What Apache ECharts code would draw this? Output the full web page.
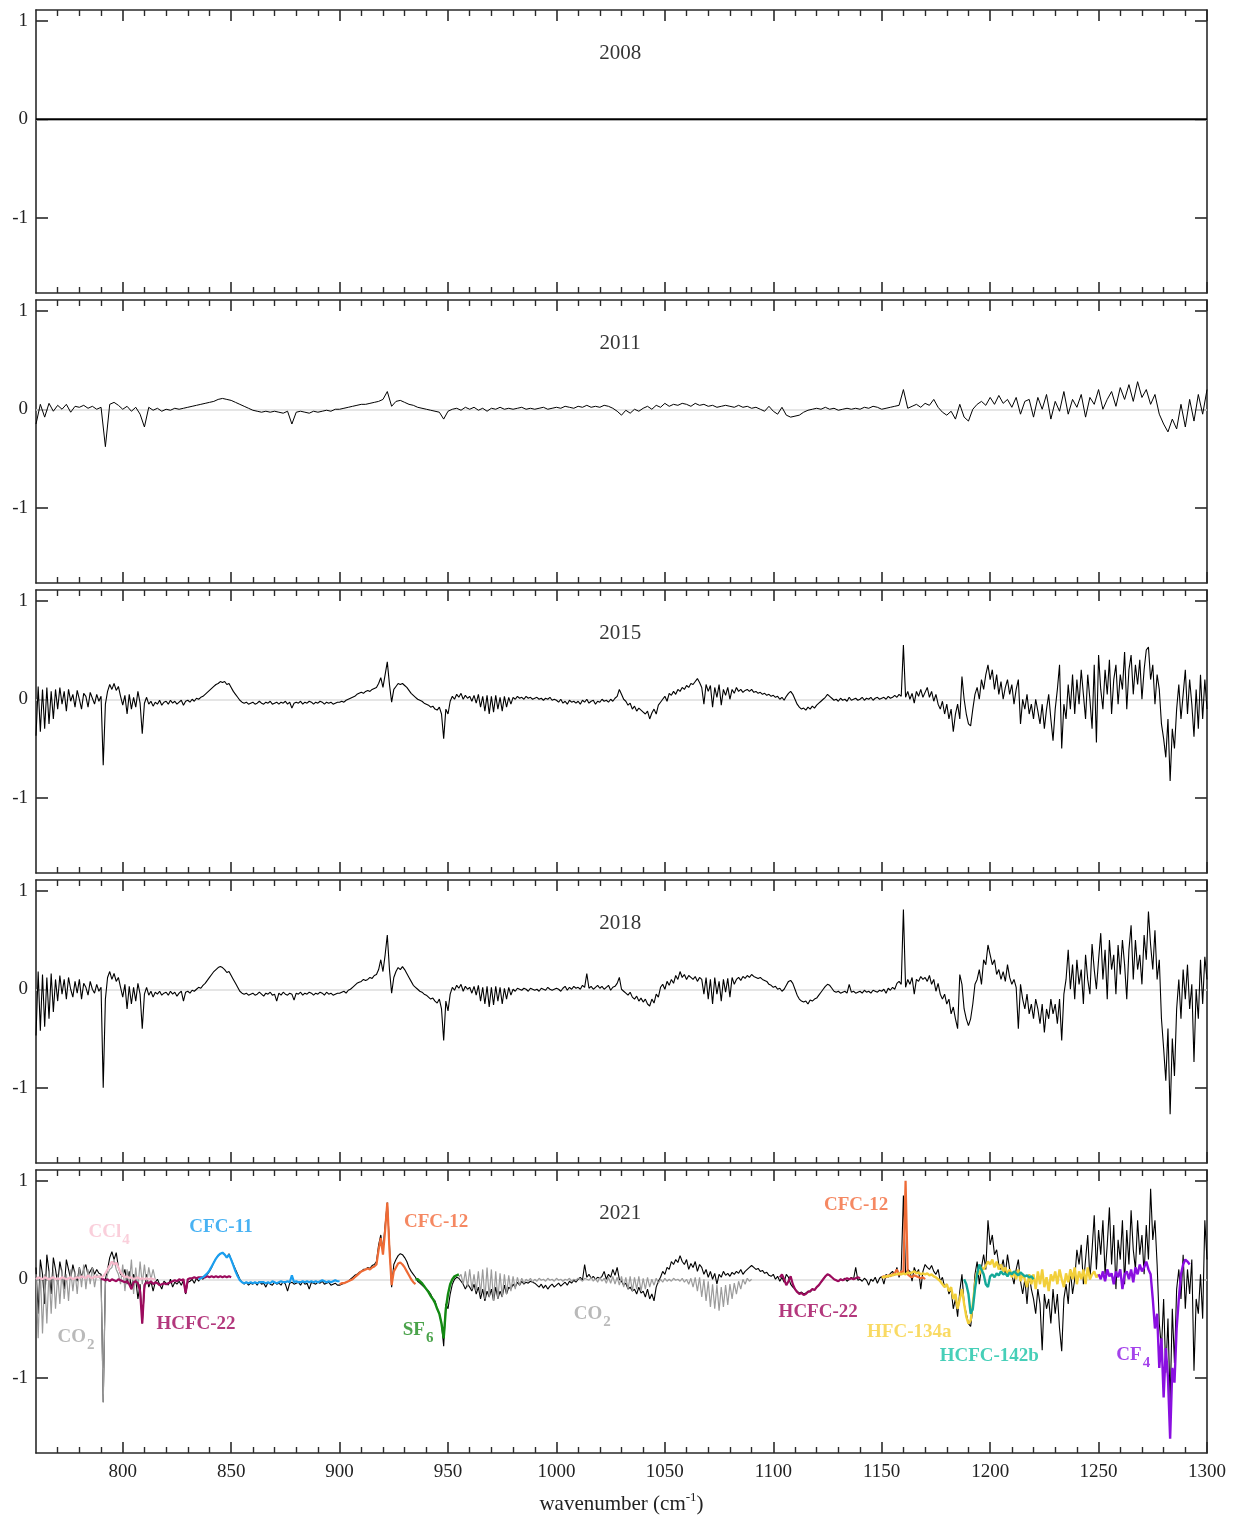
<!DOCTYPE html>
<html><head><meta charset="utf-8">
<script src="https://cdn.jsdelivr.net/npm/echarts@6/dist/echarts.min.js"></script>
<style>html,body{margin:0;padding:0;background:#fff}#c{width:1241px;height:1525px}</style>
</head><body><div id="c"></div>
<script>
// ---------- axis / tick data ----------
const X_MIN = 760, X_MAX = 1300, Y_MIN = -1.765, Y_MAX = 1.11;
const years = ['2008', '2011', '2015', '2018', '2021'];
const majorTicks = [800, 850, 900, 950, 1000, 1050, 1100, 1150, 1200, 1250, 1300];
const minorTicks = [770,780,790,810,820,830,840,860,870,880,890,910,920,930,940,960,970,980,990,1010,1020,1030,1040,1060,1070,1080,1090,1110,1120,1130,1140,1160,1170,1180,1190,1210,1220,1230,1240,1260,1270,1280,1290];
const yTicks = [-1, 0, 1];

// ---------- spectra ----------
const x2008 = [760, 1300];
const d2008 = [0, 0];

const d2011Start = 760, d2011Step = 2;
const d2011 = [
-0.15,0.05,-0.08,0.06,-0.02,0.04,0.0,0.05,-0.03,0.03,
0.02,0.04,0.01,0.03,0.0,0.02,-0.38,0.05,0.07,0.04,
0.0,0.03,-0.02,0.02,-0.05,-0.18,0.02,-0.01,0.01,-0.02,
0.0,-0.01,0.01,0.0,0.01,0.02,0.03,0.04,0.05,0.06,
0.07,0.08,0.1,0.11,0.1,0.09,0.07,0.05,0.03,0.01,
-0.01,-0.02,-0.03,-0.02,-0.03,-0.02,-0.03,-0.04,-0.02,-0.15,
-0.03,-0.02,-0.03,-0.04,-0.02,-0.03,-0.02,-0.01,-0.02,0.0,
0.0,0.01,0.02,0.03,0.04,0.05,0.05,0.06,0.07,0.08,
0.1,0.18,0.03,0.08,0.09,0.07,0.05,0.04,0.02,0.01,
0.0,-0.01,-0.02,-0.03,-0.1,-0.02,0.0,0.01,-0.01,0.02,
0.0,0.02,-0.01,0.01,-0.02,0.01,0.0,0.02,0.0,0.01,
0.0,0.01,0.02,0.0,0.01,0.0,0.01,0.02,0.0,0.01,
0.02,0.01,0.03,0.02,0.01,0.03,0.02,0.04,0.02,0.03,
0.02,0.04,0.03,0.01,-0.02,-0.06,-0.01,-0.04,0.0,-0.02,
0.01,0.03,0.0,0.04,0.02,0.06,0.03,0.05,0.04,0.06,
0.05,0.03,0.06,0.04,0.05,0.03,0.04,0.02,0.03,0.04,
0.03,0.02,0.04,0.02,0.03,0.01,0.02,0.0,-0.02,0.03,
-0.02,-0.05,0.02,-0.06,-0.08,-0.07,-0.06,-0.03,-0.01,0.0,
0.01,0.0,0.02,0.0,0.01,-0.01,0.0,0.01,0.0,0.01,
0.0,0.02,0.01,0.03,0.02,0.0,0.01,0.02,0.03,0.04,
0.2,0.01,0.03,0.05,0.02,0.06,0.04,0.1,0.02,-0.03,
-0.06,-0.02,-0.1,0.05,-0.08,-0.12,0.0,0.05,0.08,0.04,
0.12,0.05,0.14,0.06,0.1,0.02,0.12,-0.05,0.08,0.1,
-0.08,0.12,0.0,0.15,-0.1,0.08,-0.02,0.18,-0.05,0.1,
0.02,0.15,-0.08,0.12,0.05,0.2,0.0,0.1,0.18,0.03,
0.22,0.1,0.25,0.08,0.28,0.12,0.2,0.05,0.15,-0.05,
-0.15,-0.23,-0.1,-0.2,0.05,-0.18,0.1,-0.12,0.15,-0.05,
0.2];

const d2015Start = 760, d2015Step = 1;
const d2015 = [
-0.37,0.13,-0.33,0.1,-0.3,0.12,-0.25,0.08,-0.2,0.1,
-0.1,0.12,-0.05,0.08,-0.12,0.1,-0.02,0.05,-0.08,0.09,
0.0,-0.1,0.06,0.03,-0.08,0.07,0.01,-0.05,0.05,-0.02,
0.03,-0.67,-0.05,0.08,0.15,0.1,0.16,0.09,0.13,0.03,
-0.06,0.04,-0.15,0.05,-0.1,0.02,-0.08,0.08,-0.04,-0.35,
-0.04,0.02,-0.05,-0.02,-0.07,-0.03,-0.05,-0.01,-0.06,-0.03,
-0.02,-0.05,-0.01,-0.04,-0.02,-0.05,-0.03,-0.01,-0.06,-0.02,
-0.01,-0.03,0.0,-0.02,0.01,0.0,0.02,0.03,0.05,0.07,
0.09,0.11,0.13,0.15,0.16,0.18,0.17,0.18,0.15,0.16,
0.12,0.08,0.05,0.02,-0.01,-0.03,-0.04,-0.03,-0.05,-0.04,
-0.03,-0.05,-0.04,-0.02,-0.04,-0.05,-0.03,-0.04,-0.02,-0.05,
-0.04,-0.03,-0.05,-0.03,-0.04,-0.02,-0.05,-0.03,-0.09,-0.04,
-0.03,-0.04,-0.02,-0.05,-0.03,-0.04,-0.02,-0.03,-0.05,-0.03,
-0.04,-0.02,-0.03,-0.05,-0.03,-0.04,-0.03,-0.05,-0.04,-0.03,
-0.03,-0.02,-0.03,-0.01,0.0,0.01,0.02,0.03,0.05,0.06,
0.07,0.06,0.08,0.09,0.08,0.1,0.11,0.12,0.16,0.22,
0.12,0.25,0.38,0.15,-0.03,0.1,0.13,0.16,0.15,0.16,
0.14,0.12,0.09,0.06,0.04,0.02,0.0,-0.01,-0.02,-0.04,
-0.05,-0.06,-0.08,-0.07,-0.1,-0.11,-0.08,-0.15,-0.4,-0.1,
-0.15,-0.02,0.03,0.0,0.05,0.02,0.06,0.0,0.04,0.01,
0.03,-0.02,0.04,-0.04,0.05,-0.08,0.03,-0.12,0.04,-0.15,
0.03,-0.13,0.04,-0.1,0.02,-0.12,0.03,-0.08,0.02,-0.05,
0.02,0.0,0.03,0.01,0.02,0.0,0.03,0.01,0.02,0.0,
0.01,0.02,0.0,0.01,-0.01,0.01,0.0,0.02,-0.01,0.0,
-0.01,-0.03,0.0,-0.04,-0.02,-0.05,-0.01,-0.03,-0.02,-0.04,
-0.02,-0.05,-0.01,-0.03,0.0,-0.04,-0.02,-0.01,-0.05,-0.02,
-0.03,0.0,-0.02,-0.01,-0.03,0.0,-0.02,0.01,0.03,0.1,
0.05,0.0,-0.02,-0.06,-0.04,-0.1,-0.07,-0.12,-0.09,-0.11,
-0.13,-0.15,-0.12,-0.2,-0.14,-0.1,-0.15,-0.06,-0.03,0.0,
0.03,-0.02,0.06,0.04,0.08,0.05,0.1,0.08,0.12,0.1,
0.14,0.12,0.16,0.15,0.18,0.21,0.17,0.12,-0.05,0.15,
0.08,0.14,-0.08,0.12,0.02,0.15,-0.06,0.1,0.04,0.12,
0.0,0.1,0.06,0.12,0.08,0.1,0.07,0.09,0.1,0.08,
0.1,0.07,0.08,0.06,0.07,0.05,0.06,0.04,0.05,0.03,
0.04,0.02,0.03,0.0,0.02,-0.01,0.03,0.06,0.08,0.05,
0.0,-0.05,-0.08,-0.1,-0.09,-0.11,-0.08,-0.1,-0.07,-0.09,
-0.06,-0.04,-0.02,0.0,0.02,0.05,0.03,0.01,-0.01,0.0,
-0.02,0.01,-0.01,0.0,-0.02,0.02,-0.01,0.0,0.01,-0.01,
0.0,0.02,-0.01,0.01,0.0,0.02,-0.01,0.01,0.02,0.0,
0.01,0.02,0.0,0.03,0.01,0.02,0.04,0.02,0.05,0.03,
0.55,0.02,0.08,0.0,0.06,-0.04,0.08,0.03,0.1,0.02,
0.07,0.12,0.02,0.08,-0.02,0.05,-0.05,-0.1,-0.02,-0.15,
-0.05,-0.2,-0.1,-0.33,-0.15,-0.05,-0.2,0.23,0.0,-0.15,
-0.25,-0.27,-0.1,0.05,0.12,0.0,0.2,0.1,0.25,0.35,
0.2,0.3,0.1,0.25,0.05,0.18,0.0,0.12,0.2,0.05,
0.15,-0.05,0.1,0.2,-0.25,0.0,-0.1,0.05,-0.15,-0.05,
-0.2,0.0,-0.12,-0.25,-0.05,-0.3,-0.1,0.05,-0.2,-0.42,
-0.1,0.1,0.35,-0.5,-0.05,-0.2,0.15,-0.1,0.25,-0.15,
0.2,-0.05,0.3,0.05,-0.2,0.25,0.0,-0.3,0.35,-0.44,
0.45,0.1,-0.1,0.3,0.05,0.4,-0.15,0.2,0.35,-0.05,
0.25,0.1,0.48,-0.1,0.3,0.45,0.05,0.35,0.15,0.4,
0.0,0.3,0.5,0.53,0.2,0.35,-0.05,0.25,0.1,-0.25,
-0.4,-0.59,-0.2,-0.83,-0.3,-0.5,-0.1,0.15,-0.2,0.05,
0.3,-0.15,0.2,-0.05,-0.38,0.1,-0.3,0.25,-0.2,0.2,
-0.1];

const d2018Start = 760, d2018Step = 1;
const d2018 = [
-0.47,0.18,-0.42,0.15,-0.38,0.12,-0.3,0.16,-0.23,0.1,
-0.12,0.14,-0.05,0.1,-0.1,0.12,0.0,-0.08,0.08,-0.04,
0.1,-0.1,0.06,0.02,-0.06,0.08,0.0,-0.04,0.05,-0.02,
0.02,-1.0,-0.1,0.12,0.18,0.1,0.16,0.08,0.12,0.02,
-0.08,0.05,-0.2,0.03,-0.15,0.02,-0.12,0.06,-0.05,-0.4,
-0.05,0.02,-0.06,-0.02,-0.08,-0.03,-0.05,-0.02,-0.06,-0.04,
-0.03,-0.06,-0.02,-0.05,-0.03,-0.07,-0.04,-0.02,-0.12,-0.03,
-0.02,-0.04,-0.01,-0.02,0.0,0.02,0.01,0.04,0.06,0.09,
0.12,0.15,0.18,0.2,0.22,0.23,0.22,0.2,0.17,0.18,
0.14,0.1,0.06,0.02,-0.02,-0.04,-0.05,-0.04,-0.06,-0.05,
-0.04,-0.06,-0.05,-0.03,-0.05,-0.07,-0.04,-0.05,-0.03,-0.06,
-0.05,-0.12,-0.04,-0.06,-0.03,-0.05,-0.06,-0.04,-0.05,-0.11,
-0.04,-0.05,-0.03,-0.06,-0.04,-0.05,-0.03,-0.04,-0.06,-0.04,
-0.05,-0.03,-0.04,-0.06,-0.03,-0.05,-0.04,-0.06,-0.05,-0.04,
-0.04,-0.03,-0.02,-0.04,-0.01,0.0,0.02,0.04,0.06,0.07,
0.08,0.1,0.09,0.1,0.12,0.11,0.14,0.15,0.2,0.3,
0.18,0.35,0.55,0.2,-0.04,0.12,0.18,0.22,0.2,0.23,
0.2,0.16,0.12,0.08,0.04,0.02,0.0,-0.02,-0.03,-0.05,
-0.06,-0.08,-0.1,-0.09,-0.12,-0.14,-0.1,-0.2,-0.52,-0.12,
-0.22,-0.05,0.02,-0.01,0.04,0.01,0.05,-0.02,0.03,0.0,
0.02,-0.04,0.03,-0.06,0.04,-0.12,0.02,-0.15,0.03,-0.18,
0.02,-0.16,0.03,-0.12,0.02,-0.15,0.01,-0.1,0.02,-0.06,
0.0,-0.02,0.01,0.0,-0.01,0.01,0.0,-0.02,0.01,0.0,
-0.01,0.0,-0.02,0.01,0.0,-0.01,0.02,0.0,-0.01,0.0,
0.01,0.0,-0.02,0.01,0.03,-0.01,0.02,0.0,0.03,0.01,
0.02,0.0,0.04,0.02,0.16,0.01,0.03,0.0,0.02,0.04,
0.01,0.03,0.0,0.02,0.04,-0.01,0.02,0.03,0.06,0.12,
0.0,-0.02,-0.04,-0.06,-0.03,-0.08,-0.1,-0.07,-0.12,-0.09,
-0.13,-0.1,-0.15,-0.17,-0.1,-0.14,-0.05,-0.08,0.02,0.05,
0.0,0.08,0.04,0.1,0.06,0.14,0.1,0.18,0.12,0.15,
0.1,0.14,0.12,0.1,0.13,0.08,0.12,0.1,-0.05,0.12,
-0.1,0.1,-0.15,0.12,-0.05,0.08,-0.12,0.1,-0.03,0.11,
-0.08,0.12,0.05,0.1,0.12,0.09,0.13,0.11,0.14,0.12,
0.15,0.13,0.12,0.11,0.12,0.1,0.09,0.08,0.05,0.04,
0.02,0.03,0.0,0.01,-0.02,0.0,0.04,0.08,0.09,0.06,
0.0,-0.06,-0.1,-0.12,-0.13,-0.12,-0.15,-0.11,-0.12,-0.1,
-0.09,-0.06,-0.03,0.0,0.03,0.05,0.04,0.01,-0.02,-0.03,
-0.02,-0.04,-0.03,-0.02,-0.04,0.05,-0.03,-0.02,-0.04,-0.03,
-0.02,-0.04,-0.01,-0.03,-0.02,-0.04,-0.01,-0.02,-0.03,-0.01,
-0.02,0.0,-0.04,0.01,-0.01,0.02,0.0,0.06,0.08,0.05,
0.81,0.02,0.1,0.05,0.12,-0.05,0.1,0.08,0.13,0.1,
0.12,0.08,0.14,0.05,0.1,-0.02,0.06,-0.05,-0.1,-0.05,
-0.15,-0.1,-0.25,-0.18,-0.3,-0.4,0.15,0.05,-0.2,-0.3,
-0.37,-0.3,-0.15,0.05,0.1,0.2,0.05,0.3,0.25,0.45,
0.35,0.25,0.3,0.15,0.2,0.1,0.18,0.08,0.25,0.12,
0.05,0.1,0.02,-0.4,0.05,-0.1,-0.2,-0.05,-0.25,-0.15,
-0.3,-0.1,-0.2,-0.35,-0.15,-0.44,-0.2,-0.3,-0.1,-0.25,
-0.15,-0.35,-0.1,-0.52,-0.05,0.1,0.4,0.0,0.25,-0.1,
0.3,0.05,0.2,-0.15,0.35,0.1,-0.05,0.46,0.2,0.0,
0.3,0.57,0.1,0.4,-0.1,0.5,0.2,0.35,-0.05,0.45,
0.15,0.5,0.25,-0.1,0.4,0.65,0.1,0.5,0.2,0.35,
0.05,0.55,0.3,0.79,0.45,0.2,0.6,0.1,0.3,-0.3,
-0.6,-0.93,-0.4,-1.27,-0.5,-0.88,-0.2,0.1,-0.3,0.2,
-0.1,0.25,-0.2,0.05,-0.74,0.0,-0.3,0.3,-0.15,0.33,
0.1];

const d2021Start = 760, d2021Step = 1;
const d2021 = [
0.12,-0.35,0.2,0.05,-0.25,0.25,0.08,-0.15,0.22,0.1,
-0.05,0.18,0.06,-0.1,0.2,0.1,0.0,0.15,0.05,-0.02,
0.12,0.02,0.1,0.15,0.04,0.08,0.12,0.05,0.1,0.06,
0.05,-1.25,0.0,0.1,0.22,0.28,0.2,0.27,0.12,0.05,
0.03,0.1,-0.05,0.08,-0.1,0.05,0.0,-0.2,-0.05,-0.45,
-0.1,0.05,-0.08,-0.02,-0.12,-0.03,0.0,-0.05,-0.1,-0.02,
-0.04,-0.06,0.0,-0.08,-0.03,-0.05,-0.02,-0.06,-0.01,-0.15,
-0.03,-0.02,0.0,-0.04,0.01,-0.02,0.02,0.0,0.03,0.05,
0.08,0.12,0.17,0.21,0.24,0.26,0.27,0.25,0.22,0.26,
0.2,0.15,0.1,0.05,0.0,-0.03,-0.05,-0.03,-0.06,-0.04,
-0.05,-0.03,-0.06,-0.02,-0.05,-0.04,-0.08,-0.03,-0.05,-0.06,
-0.03,-0.05,-0.04,-0.06,-0.02,-0.05,-0.12,-0.04,-0.03,-0.05,
-0.04,-0.03,-0.06,-0.02,-0.05,-0.04,-0.1,-0.03,-0.04,-0.05,
-0.03,-0.04,-0.02,-0.05,-0.04,-0.03,-0.06,-0.05,-0.04,-0.06,
-0.06,-0.05,-0.04,-0.03,-0.02,0.0,0.02,0.04,0.05,0.07,
0.08,0.1,0.1,0.12,0.11,0.14,0.15,0.18,0.35,0.45,
0.3,0.55,0.78,0.35,-0.08,0.15,0.2,0.24,0.26,0.25,
0.22,0.18,0.12,0.08,0.05,0.02,-0.02,-0.04,-0.06,-0.08,
-0.1,-0.12,-0.15,-0.2,-0.22,-0.3,-0.35,-0.45,-0.68,-0.25,
-0.3,-0.15,-0.05,0.0,0.02,0.01,-0.02,-0.05,-0.1,-0.05,
-0.08,-0.12,-0.05,-0.15,-0.08,-0.2,-0.1,-0.22,-0.12,-0.18,
-0.1,-0.22,-0.08,-0.2,-0.12,-0.18,-0.06,-0.15,-0.08,-0.1,
-0.05,-0.08,-0.03,-0.06,-0.02,-0.05,-0.03,-0.04,-0.02,-0.03,
-0.04,-0.06,-0.08,-0.05,-0.09,-0.06,-0.1,-0.07,-0.05,-0.08,
-0.06,-0.04,-0.07,-0.05,-0.03,-0.06,-0.02,-0.04,-0.01,-0.03,
0.0,0.02,-0.01,0.15,0.02,0.05,0.01,0.03,0.0,0.02,
0.01,0.03,0.08,0.0,0.05,0.02,0.1,0.04,0.12,0.0,
-0.02,-0.06,-0.04,-0.1,-0.08,-0.12,-0.1,-0.15,-0.08,-0.14,
-0.12,-0.18,-0.1,-0.2,-0.15,-0.22,-0.08,-0.02,0.02,0.08,
0.05,0.12,0.1,0.18,0.15,0.2,0.17,0.24,0.18,0.15,
0.2,0.1,0.16,0.12,0.18,0.08,0.15,0.12,0.05,0.1,
0.02,0.08,0.0,0.06,-0.05,0.05,0.02,0.08,0.04,0.06,
0.03,0.07,0.05,0.08,0.06,0.1,0.05,0.08,0.1,0.12,
0.14,0.12,0.1,0.11,0.08,0.09,0.06,0.07,0.04,0.03,
0.05,0.0,0.03,-0.02,0.02,-0.03,0.05,0.02,-0.05,-0.08,
-0.1,-0.12,-0.14,-0.13,-0.15,-0.14,-0.12,-0.13,-0.1,-0.11,
-0.08,-0.06,-0.03,0.0,0.03,0.05,0.04,0.02,0.0,-0.01,
-0.02,0.0,-0.01,0.01,-0.02,0.0,0.02,0.0,0.12,-0.01,
0.0,-0.02,0.01,-0.01,-0.06,0.0,-0.02,0.02,-0.04,0.01,
0.03,-0.05,0.05,0.02,0.06,0.08,0.04,0.12,0.02,0.1,
0.85,0.05,0.1,0.08,-0.02,0.12,0.06,0.1,-0.1,0.08,
0.15,0.12,0.1,0.14,0.08,0.05,0.1,-0.02,0.02,-0.08,
-0.05,-0.15,-0.1,-0.3,-0.2,-0.38,-0.12,0.05,-0.25,-0.35,
-0.45,-0.48,-0.3,0.05,0.18,-0.05,0.12,0.25,0.1,0.6,
0.35,0.45,0.25,0.3,0.15,0.1,0.2,0.05,0.25,0.1,
0.05,-0.05,0.1,0.2,-0.02,-0.15,0.0,-0.25,0.05,-0.1,
-0.2,-0.35,-0.1,-0.25,-0.72,-0.15,-0.3,-0.2,-0.45,-0.1,
-0.35,-0.15,-0.5,-0.73,-0.2,-0.05,-0.25,0.1,-0.15,0.0,
0.3,0.15,0.35,-0.05,0.2,0.45,0.0,0.3,0.65,0.1,
0.5,0.25,0.6,0.05,0.35,0.73,0.15,0.55,-0.1,0.4,
0.2,0.6,-0.05,0.5,0.15,0.7,0.3,0.1,0.6,0.25,
0.45,0.05,0.55,0.2,0.92,0.4,0.6,0.15,-0.45,-0.7,
-0.2,-0.95,-0.4,-1.25,-0.3,-0.85,-0.1,0.1,-0.2,0.25,
-0.3,0.1,-0.15,0.2,-0.93,-0.2,-0.35,0.05,-0.4,0.6,
0.2];

// ---------- 2021 gas contributions ----------
const co2aStart = 760;
const co2a = [
0.05,-0.6,0.1,-0.55,0.05,-0.45,0.08,-0.35,0.1,-0.3,
0.05,-0.25,0.1,-0.2,0.05,-0.22,0.1,-0.12,0.08,-0.15,
0.12,-0.08,0.15,-0.1,0.1,-0.05,0.12,-0.08,0.05,0.02,
0.0,-1.25,-0.05,0.05,0.1,0.12,0.2,0.1,0.05,-0.05,
0.15,-0.12,0.1,-0.05,0.2,-0.15,0.12,-0.1,0.18,-0.05,
0.15,-0.05,0.12,0.0,0.1,0.0];
const co2bStart = 955;
const co2b = [
0.02,0.05,-0.05,0.08,-0.08,0.1,-0.1,0.05,-0.12,0.08,
-0.15,0.1,-0.2,0.12,-0.18,0.1,-0.22,0.08,-0.2,0.06,
-0.18,0.05,-0.15,0.04,-0.12,0.03,-0.1,0.02,-0.06,0.01,
-0.04,0.0,-0.02,0.01,-0.03,0.0,-0.02,0.01,-0.01,0.0,
-0.02,0.01,-0.01,0.0,-0.02,0.01,-0.01,0.0,-0.02,0.0,
-0.01,0.01,-0.02,0.0,-0.01,0.01,0.0,-0.02,0.01,0.0,
-0.01,0.02,-0.02,0.01,-0.03,0.02,-0.02,0.01,-0.04,0.02,
-0.04,0.03,-0.05,0.02,-0.06,0.03,-0.08,0.02,-0.1,0.03,
-0.12,0.02,-0.1,0.03,-0.12,0.01,-0.1,0.02,-0.08,0.0,
-0.06,0.01,-0.04,0.0,-0.03,0.01,-0.02,0.0,-0.02,0.01,
-0.01,0.0,-0.02,0.01,-0.03,0.0,-0.05,0.01,-0.08,0.02,
-0.12,0.02,-0.18,0.0,-0.22,-0.02,-0.28,-0.05,-0.3,-0.06,
-0.32,-0.08,-0.28,-0.06,-0.26,-0.05,-0.2,-0.04,-0.15,-0.02,
-0.1,0.0,-0.05,0.01,-0.02,0.0];
const ccl4Start = 760;
const ccl4 = [
0.0,0.02,0.01,0.0,0.02,0.01,0.0,0.01,0.02,0.0,
0.01,0.0,0.02,0.01,0.0,0.01,0.02,0.0,0.01,0.02,
0.01,0.03,0.02,0.01,0.04,0.02,0.01,0.03,0.02,0.03,
0.02,0.03,0.06,0.1,0.14,0.18,0.15,0.17,0.12,0.07,
0.04,0.02,0.03,0.01,0.02,0.0,0.01,0.02,0.0,0.01,
0.0,0.01,0.0,0.01,0.0,0.0];
const hcfc22aStart = 790;
const hcfc22a = [
0.0,0.0,-0.01,0.0,-0.02,0.0,-0.01,-0.02,0.0,-0.01,
-0.02,-0.03,-0.02,-0.05,-0.1,-0.03,-0.02,-0.04,-0.12,-0.45,
-0.06,-0.03,-0.04,-0.02,-0.05,-0.03,-0.04,-0.06,-0.05,-0.04,
-0.05,-0.04,-0.03,-0.02,-0.01,-0.02,0.0,-0.01,0.0,-0.14,
0.0,0.01,0.01,0.02,0.01,0.02,0.02,0.02,0.02,0.03,
0.02,0.03,0.02,0.03,0.02,0.03,0.02,0.03,0.02,0.03,0.02];
const hcfc22bStart = 1103;
const hcfc22b = [
0.02,0.05,0.0,-0.06,-0.02,0.03,-0.05,-0.1,-0.13,-0.15,
-0.14,-0.16,-0.15,-0.13,-0.12,-0.1,-0.11,-0.08,-0.06,-0.03,
0.0,0.03,0.05,0.04,0.02,0.0,-0.01,-0.02,0.0,-0.01,
0.0,0.01,0.0,0.01,0.0,0.01,0.02,0.01];
const cfc11Start = 835;
const cfc11 = [
0.0,0.01,0.02,0.04,0.06,0.09,0.13,0.17,0.21,0.24,
0.26,0.27,0.25,0.22,0.25,0.2,0.14,0.08,0.03,-0.01,
-0.03,-0.04,-0.03,-0.04,-0.03,-0.04,-0.03,-0.04,-0.03,-0.03,
-0.03,-0.04,-0.03,-0.04,-0.02,-0.03,-0.04,-0.03,-0.02,-0.03,
-0.03,-0.02,-0.03,0.04,-0.03,-0.02,-0.03,-0.03,-0.02,-0.03,
-0.02,-0.03,-0.02,-0.03,-0.02,-0.03,-0.02,-0.01,-0.02,-0.03,
-0.02,-0.03,-0.02,-0.01,-0.02,-0.02];
const cfc12aStart = 900;
const cfc12a = [
-0.05,-0.04,-0.04,-0.03,-0.02,-0.01,0.0,0.02,0.04,0.06,
0.08,0.09,0.1,0.11,0.1,0.12,0.13,0.15,0.3,0.42,
0.25,0.5,0.78,0.3,-0.06,0.08,0.12,0.16,0.17,0.15,
0.12,0.08,0.04,0.0,-0.03,-0.05];
const cfc12bStart = 1150;
const cfc12b = [
0.02,0.03,0.02,0.04,0.03,0.05,0.06,0.1,0.04,0.08,
0.06,1.0,0.05,0.03,0.02,0.04,0.03,0.02,0.01,0.02,0.0];
const sf6Start = 935;
const sf6 = [
0.0,0.0,-0.02,-0.04,-0.07,-0.1,-0.13,-0.17,-0.2,-0.24,
-0.3,-0.35,-0.45,-0.6,-0.3,-0.15,-0.05,0.0,0.03,0.04,0.05];
const hfc134aStart = 1150;
const hfc134a = [
0.02,0.02,0.03,0.03,0.04,0.04,0.05,0.05,0.06,0.05,
0.06,0.05,0.07,0.06,0.07,0.08,0.06,0.07,0.05,0.06,
0.05,0.06,0.04,0.05,0.03,0.02,0.0,-0.02,-0.05,-0.08,
-0.05,-0.12,-0.08,-0.2,-0.15,-0.3,-0.2,-0.1,-0.25,-0.38,
-0.45,-0.42,-0.25,-0.05,0.08,0.05,0.12,0.1,0.14,0.18,
0.15,0.2,0.12,0.18,0.1,0.15,0.08,0.12,0.05,0.1,
0.02,0.08,0.0,0.1,-0.02,0.05,0.0,-0.08,0.05,-0.05,
0.05,-0.1,0.08,-0.05,0.1,-0.08,0.02,-0.12,0.05,-0.02,
0.08,-0.05,0.1,0.0,-0.08,0.06,-0.03,0.1,0.0,0.12,
-0.05,0.08,0.0,0.1,-0.05,0.12,0.0,0.05,0.08,0.02,0.05];
const hcfc142bStart = 1188;
const hcfc142b = [
0.0,-0.05,-0.15,-0.35,-0.3,-0.1,0.05,0.15,0.1,0.05,
-0.05,-0.08,0.03,0.05,0.02,0.06,0.04,0.08,0.05,0.06,
0.03,0.07,0.05,0.08,0.06,0.04,0.07,0.05,0.03,0.04,
0.02,0.03,0.0];
const cf4Start = 1250;
const cf4 = [
0.05,0.0,0.08,-0.02,0.1,0.03,0.06,-0.05,0.08,0.02,
0.1,-0.1,0.05,0.08,0.0,0.1,-0.03,0.12,0.05,0.15,
0.08,0.12,0.18,0.1,0.05,-0.2,-0.5,-0.35,-0.9,-0.6,
-1.2,-0.7,-1.0,-1.62,-0.9,-1.05,-0.5,-0.2,0.05,0.15,
0.2,0.18,0.15];

// ---------- annotation labels (2021 panel) ----------
const annMain = ['CCl', 'CFC-11', 'CFC-12', 'CFC-12', 'CO', 'HCFC-22', 'SF', 'CO', 'HCFC-22', 'HFC-134a', 'HCFC-142b', 'CF'];
const annSub  = ['4', '', '', '', '2', '', '6', '2', '', '', '', '4'];
const annX = [793.7, 845.3, 944.5, 1138.2, 778.5, 833.8, 936.2, 1016.5, 1120.7, 1162.7, 1199.6, 1266];
const annY = [0.48, 0.53, 0.58, 0.755, -0.59, -0.46, -0.52, -0.35, -0.33, -0.54, -0.78, -0.77];
const annColor = ['#f9c3d2', '#1a9ff0', '#f26a3b', '#f26a3b', '#a8a8a8', '#a0065c', '#1e8c1e', '#a8a8a8', '#a0065c', '#f7d13d', '#18c3a6', '#8d14e6'];
const yearX = 1029.4, yearY = 0.67;

// ---------- build chart ----------
const pairs = (start, step, vals) => vals.map((v, i) => [start + i * step, v]);
const FONT = 'Liberation Serif, Times New Roman, serif';
const AX = '#2a2a2a';

const grids = [], xAxes = [], yAxes = [], series = [];
for (let i = 0; i < 5; i++) {
  grids.push({ left: 36, right: 34, top: 10 + 290 * i, height: 283, containLabel: false, outerBoundsMode: 'none' });
  const last = i === 4;
  const base = { gridIndex: i, type: 'value', min: X_MIN, max: X_MAX, splitLine: { show: false } };
  xAxes.push(Object.assign({}, base, {
    position: 'bottom',
    axisLine: { show: true, onZero: false, lineStyle: { color: AX, width: 1.6 } },
    axisTick: { show: true, inside: true, length: 11, customValues: majorTicks, lineStyle: { color: AX, width: 1.6 } },
    axisLabel: { show: last, customValues: majorTicks, margin: 10, fontFamily: FONT, fontSize: 19, color: '#222',
      formatter: v => String(v) },
    name: last ? '{n|wavenumber (cm}{p|-1}{n|)}' : '',
    nameLocation: 'middle', nameGap: 38,
    nameTextStyle: { rich: {
      n: { fontFamily: FONT, fontSize: 21, color: '#222', lineHeight: 26 },
      p: { fontFamily: FONT, fontSize: 13, color: '#222', padding: [0, 0, 14, 0], verticalAlign: 'top' }
    } }
  }));
  xAxes.push(Object.assign({}, base, {
    position: 'bottom',
    axisLine: { show: false, onZero: false },
    axisTick: { show: true, inside: true, length: 6, customValues: minorTicks, lineStyle: { color: AX, width: 1.4 } },
    axisLabel: { show: false }
  }));
  xAxes.push(Object.assign({}, base, {
    position: 'top',
    axisLine: { show: true, onZero: false, lineStyle: { color: AX, width: 1.6 } },
    axisTick: { show: true, inside: true, length: 11, customValues: majorTicks, lineStyle: { color: AX, width: 1.6 } },
    axisLabel: { show: false }
  }));
  xAxes.push(Object.assign({}, base, {
    position: 'top',
    axisLine: { show: false, onZero: false },
    axisTick: { show: true, inside: true, length: 6, customValues: minorTicks, lineStyle: { color: AX, width: 1.4 } },
    axisLabel: { show: false }
  }));
  const ybase = { gridIndex: i, type: 'value', min: Y_MIN, max: Y_MAX, splitLine: { show: false } };
  yAxes.push(Object.assign({}, ybase, {
    position: 'left',
    axisLine: { show: true, onZero: false, lineStyle: { color: AX, width: 1.6 } },
    axisTick: { show: true, inside: true, length: 12, customValues: yTicks, lineStyle: { color: AX, width: 1.6 } },
    axisLabel: { show: true, customValues: yTicks, margin: 8, fontFamily: FONT, fontSize: 19, color: '#222',
      formatter: v => String(v) }
  }));
  yAxes.push(Object.assign({}, ybase, {
    position: 'right',
    axisLine: { show: true, onZero: false, lineStyle: { color: AX, width: 1.6 } },
    axisTick: { show: true, inside: true, length: 12, customValues: yTicks, lineStyle: { color: AX, width: 1.6 } },
    axisLabel: { show: false }
  }));
  // zero reference line (drawn under the spectra)
  series.push({
    type: 'line', xAxisIndex: 4 * i, yAxisIndex: 2 * i, data: [], z: 1, silent: true,
    markLine: { silent: true, z: 1, symbol: ['none', 'none'], label: { show: false }, animation: false,
      lineStyle: { color: '#dcdcdc', width: 1.5, type: 'solid' }, data: [{ yAxis: 0 }] }
  });
  // year label
  series.push({
    type: 'scatter', xAxisIndex: 4 * i, yAxisIndex: 2 * i, symbolSize: 0, silent: true, z: 10,
    data: [{ value: [yearX, yearY], label: { show: true, position: 'inside', formatter: years[i],
      fontFamily: FONT, fontSize: 21, color: '#000' } }]
  });
}

function line(gi, data, color, width, z) {
  series.push({ type: 'line', xAxisIndex: 4 * gi, yAxisIndex: 2 * gi, data, showSymbol: false, symbol: 'none',
    sampling: null, silent: true, z, lineStyle: { color, width }, emphasis: { disabled: true } });
}

line(0, x2008.map((x, i) => [x, d2008[i]]), '#000', 1.8, 3);
line(1, pairs(d2011Start, d2011Step, d2011), '#000', 1, 3);
line(2, pairs(d2015Start, d2015Step, d2015), '#000', 1.1, 3);
line(3, pairs(d2018Start, d2018Step, d2018), '#000', 1.1, 3);
line(4, pairs(d2021Start, d2021Step, d2021), '#000', 1.1, 3);

line(4, pairs(co2aStart, 1, co2a), '#9b9b9b', 1.2, 4);
line(4, pairs(co2bStart, 1, co2b), '#9b9b9b', 1.2, 4);
line(4, pairs(ccl4Start, 1, ccl4), '#f7b9cb', 2.2, 5);
line(4, pairs(hcfc22aStart, 1, hcfc22a), '#9c0b5d', 2.2, 5);
line(4, pairs(hcfc22bStart, 1, hcfc22b), '#9c0b5d', 2.2, 5);
line(4, pairs(cfc11Start, 1, cfc11), '#1a9ff0', 2.2, 5);
line(4, pairs(cfc12aStart, 1, cfc12a), '#ee6a35', 2.2, 5);
line(4, pairs(cfc12bStart, 1, cfc12b), '#ee6a35', 2.2, 5);
line(4, pairs(sf6Start, 1, sf6), '#138a13', 2.4, 5);
line(4, pairs(hfc134aStart, 1, hfc134a), '#f2cf3a', 2.4, 5);
line(4, pairs(hcfc142bStart, 1, hcfc142b), '#14a898', 2.4, 6);
line(4, pairs(cf4Start, 1, cf4), '#8a0fe0', 2.4, 6);

series.push({
  type: 'scatter', xAxisIndex: 16, yAxisIndex: 8, symbolSize: 0, silent: true, z: 20,
  data: annMain.map((t, k) => ({
    value: [annX[k], annY[k]],
    label: {
      show: true, position: 'inside',
      formatter: annSub[k] ? '{n|' + t + '}{s|' + annSub[k] + '}' : '{n|' + t + '}',
      rich: {
        n: { fontFamily: FONT, fontSize: 19, fontWeight: 'bold', color: annColor[k], lineHeight: 30 },
        s: { fontFamily: FONT, fontSize: 15, fontWeight: 'bold', color: annColor[k], padding: [16, 0, 0, 1], verticalAlign: 'top' }
      }
    }
  }))
});

const chart = echarts.init(document.getElementById('c'), null, { renderer: 'canvas' });
chart.setOption({ animation: false, backgroundColor: '#fff', grid: grids, xAxis: xAxes, yAxis: yAxes, series });
</script></body></html>
